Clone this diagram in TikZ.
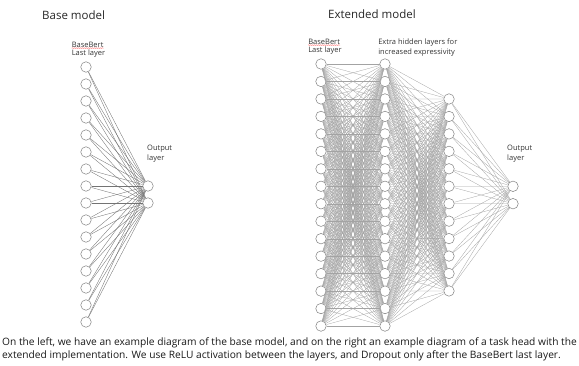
\documentclass[tikz,border=0pt]{standalone}
\usepackage{fontspec}
\setmainfont{Open Sans}
\usetikzlibrary{positioning,decorations.pathmorphing}

\begin{document}
\begin{tikzpicture}[x=1pt, y=-1pt, c/.style={circle, draw=black!50, fill=white, line width=.5pt, minimum size=10.5pt, inner sep=0pt}, e/.style={draw=black!55, line width=.35pt}, f/.style={draw=black!36, line width=.3pt}, t/.style={font=\fontsize{7.5}{9.8}\selectfont, text=black!80, inner sep=0pt, align=left}, h/.style={font=\fontsize{11.5}{13}\selectfont, text=black!85, inner sep=0pt}, sq/.style={draw=red!50, line width=.4pt, decorate, decoration={snake, amplitude=.45pt, segment length=2pt}}]
\useasboundingbox (0,0) rectangle (579,366);

% base model
\node[h, anchor=west] (base_title) at (42,15) {Base model};
\foreach \i in {1,...,16}
  \node[c] (b\i) at (86, {67+(\i-1)*17}) {};
\node[c] (bo1) at (148,186) {};
\node[c] (bo2) at (148,203) {};
\foreach \i in {1,...,16}
  \foreach \j in {1,2}
    \draw[e] (b\i) -- (bo\j);
\node[t, above=4pt of b1, xshift=2.5pt] (b_label2) {Last layer};
\node[t, above=1.5pt of b_label2.north west, anchor=south west] (b_label) {BaseBert};
\draw[sq] (b_label.south west) -- (b_label.south east);
\node[t, above=18pt of bo1.north, anchor=south west, xshift=-1pt] (bo_label) {Output\\layer};

% extended model
\node[h, anchor=west] (ext_title) at (328,14) {Extended model};
\foreach \i in {1,...,16} {
  \node[c] (x\i) at (321, {64+(\i-1)*17.47}) {};
  \node[c] (y\i) at (385, {64+(\i-1)*17.47}) {};
}
\foreach \i in {1,...,12}
  \node[c] (z\i) at (449, {99+(\i-1)*17.45}) {};
\node[c] (xo1) at (513,186.3) {};
\node[c] (xo2) at (513,203.7) {};
\foreach \i in {1,...,16}
  \foreach \j in {1,...,16}
    \draw[f] (x\i) -- (y\j);
\foreach \i in {1,...,16}
  \foreach \j in {1,...,12}
    \draw[f] (y\i) -- (z\j);
\foreach \i in {1,...,12}
  \foreach \j in {1,2}
    \draw[f] (z\i) -- (xo\j);
\node[t, above=4pt of x1, xshift=4pt] (x_label2) {Last layer};
\node[t, above=1.5pt of x_label2.north west, anchor=south west] (x_label) {BaseBert};
\draw[sq] (x_label.south west) -- (x_label.south east);
\node[t, above=4pt of y1.north west, anchor=south west, xshift=-3pt] (y_label) {Extra hidden layers for\\increased expressivity};
\node[t, above=18pt of xo1.north, anchor=south west, xshift=-6pt] (xo_label) {Output\\layer};

% caption
\node[anchor=base west, align=left, inner sep=0pt, text=black!90, font=\fontsize{10.2}{13}\selectfont] (cap) at (2,359) {On the left, we have an example diagram of the base model, and on the right an example diagram of a task head with the\\extended implementation. We use ReLU activation between the layers, and Dropout only after the BaseBert last layer.};
\end{tikzpicture}
\end{document}
